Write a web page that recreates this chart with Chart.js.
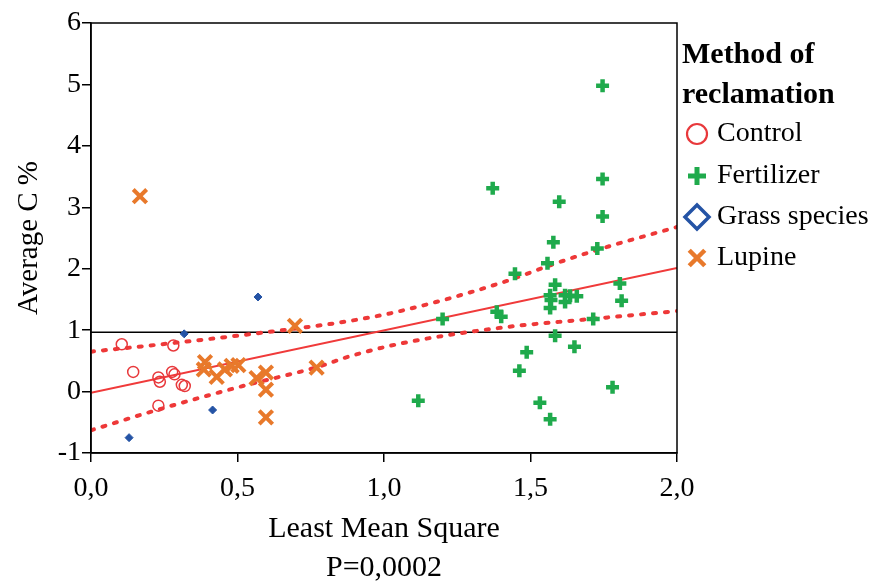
<!DOCTYPE html>
<html>
<head>
<meta charset="utf-8">
<script src="https://cdn.jsdelivr.net/npm/chart.js@4/dist/chart.umd.min.js"></script>
<style>
  body { margin: 0; background: #fff; }
  #wrap { width: 874px; height: 584px; }
</style>
</head>
<body>
<div id="wrap"><canvas id="myChart" width="874" height="584"></canvas></div>
<script>
// Scatter data
const controlX = [0.105, 0.144, 0.23, 0.235, 0.281, 0.277, 0.285, 0.31, 0.32, 0.23];
const controlY = [0.77, 0.32, 0.23, 0.16, 0.75, 0.32, 0.28, 0.11, 0.09, -0.23];

const fertilizerX = [1.746, 1.371, 1.598, 1.746, 1.746, 1.578, 1.728, 1.558, 1.447, 1.584, 1.805, 1.811,
                     1.567, 1.57, 1.567, 1.618, 1.618, 1.635, 1.658, 1.385, 1.40, 1.20, 1.714, 1.584,
                     1.65, 1.487, 1.462, 1.78, 1.117, 1.532, 1.567];
const fertilizerY = [4.98, 3.31, 3.09, 3.46, 2.85, 2.43, 2.33, 2.09, 1.92, 1.74, 1.76, 1.48,
                     1.57, 1.49, 1.36, 1.57, 1.46, 1.56, 1.55, 1.30, 1.22, 1.18, 1.18, 0.91,
                     0.73, 0.64, 0.34, 0.07, -0.15, -0.18, -0.45];

const grassX = [0.318, 0.415, 0.13, 0.57];
const grassY = [0.94, -0.30, -0.75, 1.54];

const lupineX = [0.167, 0.696, 0.389, 0.385, 0.429, 0.457, 0.48, 0.503, 0.565, 0.597, 0.597, 0.597, 0.77];
const lupineY = [3.18, 1.07, 0.48, 0.36, 0.24, 0.36, 0.42, 0.43, 0.22, 0.31, 0.03, -0.42, 0.39];

// Fit line, confidence band and mean line
const fitX = [0, 2];
const fitY = [-0.02, 2.01];
const upperX = [0, 0.28, 0.57, 0.87, 1.055, 1.40, 1.57, 1.73, 2.0];
const upperY = [0.65, 0.79, 0.95, 1.14, 1.31, 1.77, 2.06, 2.31, 2.68];
const lowerX = [0, 0.225, 0.51, 0.78, 0.88, 1.055, 1.40, 1.68, 2.0];
const lowerY = [-0.63, -0.30, 0.08, 0.41, 0.57, 0.78, 1.04, 1.17, 1.31];
const meanX = [0, 2];
const meanY = [0.965, 0.965];

const legendTitle = ['Method of', 'reclamation'];
const xTitle = ['Least Mean Square', 'P=0,0002'];
const yTitle = 'Average C %';

const FONT = '"Liberation Serif", "Times New Roman", serif';

function pts(xs, ys) {
    return xs.map((x, i) => ({ x: x, y: ys[i] }));
}

const datasets = [
    {
        label: 'Control', data: pts(controlX, controlY),
        pointStyle: 'circle', pointRadius: 5.5, borderWidth: 1.5,
        borderColor: '#e8383b', backgroundColor: 'rgba(0,0,0,0)',
        legendRadius: 10, legendWidth: 2.2, order: 1
    },
    {
        label: 'Fertilizer', data: pts(fertilizerX, fertilizerY),
        pointStyle: 'cross', pointRadius: 6.5, borderWidth: 4.5,
        borderColor: '#1faa4c', backgroundColor: '#1faa4c',
        legendRadius: 9, legendWidth: 5, order: 1
    },
    {
        label: 'Grass species', data: pts(grassX, grassY),
        pointStyle: 'rectRot', pointRadius: 4, borderWidth: 1,
        borderColor: '#2453a5', backgroundColor: '#2453a5',
        legendRadius: 12, legendWidth: 3.5, legendOpen: true, order: 1
    },
    {
        label: 'Lupine', data: pts(lupineX, lupineY),
        pointStyle: 'crossRot', pointRadius: 9.5, borderWidth: 4,
        borderColor: '#e8792b', backgroundColor: '#e8792b',
        legendRadius: 11, legendWidth: 4.5, order: 1
    },
    {
        type: 'line', label: 'fit', data: pts(fitX, fitY),
        borderColor: '#f03a3a', borderWidth: 2, pointRadius: 0, order: 2
    },
    {
        type: 'line', label: 'upper', data: pts(upperX, upperY),
        borderColor: '#ee3838', borderWidth: 4, borderDash: [3, 9], borderCapStyle: 'round',
        pointRadius: 0, tension: 0.4, cubicInterpolationMode: 'monotone', order: 2
    },
    {
        type: 'line', label: 'lower', data: pts(lowerX, lowerY),
        borderColor: '#ee3838', borderWidth: 4, borderDash: [3, 9], borderCapStyle: 'round',
        pointRadius: 0, tension: 0.4, cubicInterpolationMode: 'monotone', order: 2
    },
    {
        type: 'line', label: 'mean', data: pts(meanX, meanY),
        borderColor: '#000', borderWidth: 1.5, pointRadius: 0, order: 2
    }
];

// frame, titles and legend
const extras = {
    id: 'extras',
    afterDraw(chart) {
        const ctx = chart.ctx;
        const a = chart.chartArea;
        ctx.save();
        ctx.strokeStyle = '#000';
        ctx.lineWidth = 1.5;
        ctx.strokeRect(a.left, a.top, a.right - a.left, a.bottom - a.top);

        ctx.fillStyle = '#000';
        ctx.textAlign = 'center';
        ctx.textBaseline = 'middle';
        ctx.font = '30px ' + FONT;
        ctx.fillText(xTitle[0], (a.left + a.right) / 2, 529);
        ctx.fillText(xTitle[1], (a.left + a.right) / 2, 568);

        ctx.save();
        ctx.translate(29, (a.top + a.bottom) / 2);
        ctx.rotate(-Math.PI / 2);
        ctx.font = '29px ' + FONT;
        ctx.fillText(yTitle, 0, 0);
        ctx.restore();

        // legend
        ctx.textAlign = 'left';
        ctx.font = 'bold 30px ' + FONT;
        ctx.fillText(legendTitle[0], 682, 55);
        ctx.fillText(legendTitle[1], 682, 95);
        ctx.font = '28px ' + FONT;
        const rows = [134, 176, 217, 258];
        datasets.slice(0, 4).forEach((ds, i) => {
            ctx.strokeStyle = ds.borderColor;
            ctx.lineWidth = ds.legendWidth;
            ctx.fillStyle = ds.legendOpen ? 'rgba(0,0,0,0)' : ds.backgroundColor;
            Chart.helpers.drawPoint(ctx, {
                pointStyle: ds.pointStyle, radius: ds.legendRadius,
                borderWidth: ds.legendWidth, rotation: 0
            }, 697, rows[i]);
            ctx.fillStyle = '#000';
            ctx.fillText(ds.label, 717, rows[i]);
        });
        ctx.restore();
    }
};

const ctx = document.getElementById('myChart').getContext('2d');
const myChart = new Chart(ctx, {
    type: 'scatter',
    data: { datasets: datasets },
    plugins: [extras],
    options: {
        responsive: false,
        animation: false,
        layout: { padding: { left: 0, right: 197, top: 23, bottom: 0 } },
        plugins: {
            legend: { display: false },
            tooltip: { enabled: false }
        },
        scales: {
            x: {
                type: 'linear', min: 0, max: 2,
                afterFit: (scale) => { scale.height = 131; },
                ticks: {
                    stepSize: 0.5, color: '#000', padding: 10,
                    font: { family: FONT, size: 28 },
                    maxRotation: 0,
                    callback: (v) => v.toFixed(1).replace('.', ',')
                },
                grid: { drawOnChartArea: false, drawTicks: true, tickLength: 9, color: '#000', lineWidth: 1.5 },
                border: { display: true, color: '#000', width: 1.5 }
            },
            y: {
                type: 'linear', min: -1, max: 6,
                afterFit: (scale) => { scale.width = 91; },
                ticks: {
                    stepSize: 1, color: '#000', padding: 1,
                    font: { family: FONT, size: 28 }
                },
                grid: { drawOnChartArea: false, drawTicks: true, tickLength: 9, color: '#000', lineWidth: 1.5 },
                border: { display: true, color: '#000', width: 1.5 }
            }
        }
    }
});
</script>
</body>
</html>
